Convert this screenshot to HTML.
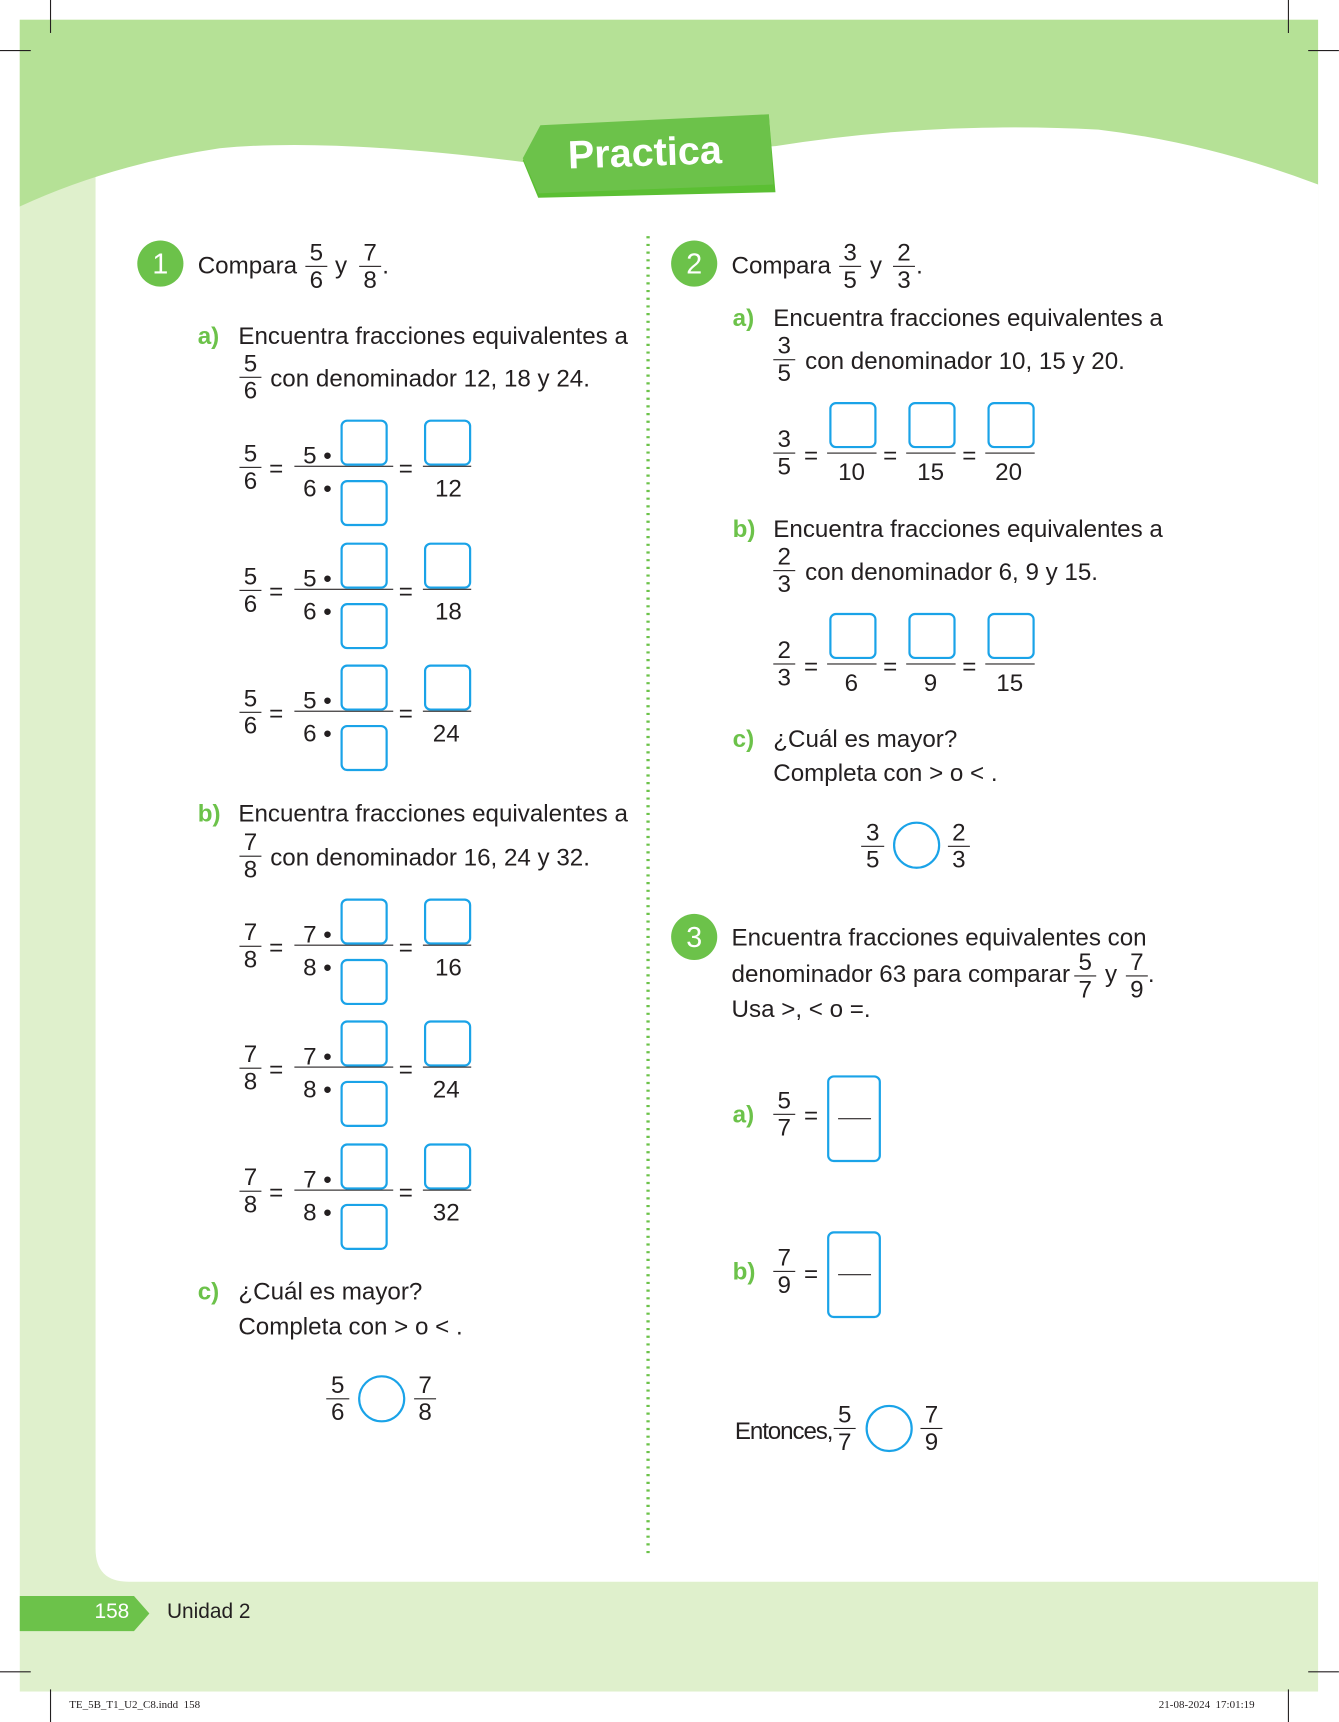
<!DOCTYPE html>
<html><head><meta charset="utf-8"><style>
html,body{margin:0;padding:0;background:#fff;width:1339px;height:1722px;overflow:hidden}
#w{position:absolute;left:0;top:0;width:1219px;height:1568px;transform:scale(1.0984);transform-origin:0 0;font-family:"Liberation Sans",sans-serif;color:#231f20}
.t{position:absolute;font-size:22px;white-space:nowrap;line-height:26px}
.g{color:#6cc24a;font-weight:bold}
.f{position:absolute;text-align:center;font-size:22px;line-height:24px;white-space:nowrap}
.f .b{border-top:1.5px solid #231f20}
.bx{position:absolute;border:2px solid #1aa3e8;border-radius:6px;box-sizing:border-box;background:#fff}
.c{position:absolute;border:2px solid #1aa3e8;border-radius:50%;box-sizing:border-box}
.n{position:absolute;width:42px;height:42px;border-radius:50%;background:#6cc24a;color:#fff;font-size:26px;line-height:42px;text-align:center}
.eq{position:absolute;font-size:22px;line-height:22px}
</style></head><body><div id="w">
<svg width="1219" height="1568" style="position:absolute;left:0;top:0">
<rect x="18" y="18" width="1182" height="1522" fill="#dff0cc"/>
<path d="M87 100 H1200 V1440 H117 Q87 1440 87 1410 Z" fill="#fff"/>
<path d="M18 18 H1200 V168 Q1100 130 1000 118 Q850 110 706 133 L480 148 Q300 125 200 135 Q100 150 18 188 Z" fill="#b5e196"/>
<polygon points="492,118 700,106 706,175 490,180 476,146" fill="#5bbf33"/>
<polygon points="492,114 700,104 704,168 490,176 476,144" fill="#6cc24a"/>
<line x1="590" y1="215" x2="590" y2="1418" stroke="#6cc24a" stroke-width="3" stroke-dasharray="2,5"/>
<polygon points="18,1453 122,1453 136,1469 122,1485 18,1485" fill="#6cc24a"/>
<g stroke="#231f20" stroke-width="1"><line x1="46" y1="0" x2="46" y2="30"/><line x1="0" y1="46" x2="28" y2="46"/><line x1="1173" y1="0" x2="1173" y2="30"/><line x1="1191" y1="46" x2="1219" y2="46"/><line x1="46" y1="1538" x2="46" y2="1568"/><line x1="0" y1="1522" x2="28" y2="1522"/><line x1="1173" y1="1538" x2="1173" y2="1568"/><line x1="1191" y1="1522" x2="1219" y2="1522"/></g>
</svg>
<div style="position:absolute;left:517px;top:118px;font-size:36px;font-weight:bold;color:#fff;transform:rotate(-2deg)">Practica</div>

<!-- Problem 1 -->
<div class="n" style="left:125px;top:219px">1</div>
<div class="t" style="left:180px;top:229px">Compara</div>
<div class="f" style="left:278px;top:218px;width:20px"><div>5</div><div class="b">6</div></div>
<div class="t" style="left:305px;top:229px">y</div>
<div class="f" style="left:327px;top:218px;width:20px"><div>7</div><div class="b">8</div></div>
<div class="t" style="left:348px;top:229px">.</div>
<div class="t g" style="left:180px;top:293px">a)</div>
<div class="t" style="left:217px;top:293px">Encuentra fracciones equivalentes a</div>
<div class="f" style="left:218px;top:319px;width:20px"><div>5</div><div class="b">6</div></div>
<div class="t" style="left:246px;top:332px">con denominador 12, 18 y 24.</div>

<!-- rows generator inline -->
<div id="rows"></div>

<div class="t g" style="left:180px;top:728px">b)</div>
<div class="t" style="left:217px;top:728px">Encuentra fracciones equivalentes a</div>
<div class="f" style="left:218px;top:755px;width:20px"><div>7</div><div class="b">8</div></div>
<div class="t" style="left:246px;top:768px">con denominador 16, 24 y 32.</div>

<div class="t g" style="left:180px;top:1163px">c)</div>
<div class="t" style="left:217px;top:1163px">¿Cuál es mayor?</div>
<div class="t" style="left:217px;top:1195px">Completa con &gt; o &lt; .</div>
<div class="f" style="left:297px;top:1249px;width:21px"><div>5</div><div class="b">6</div></div>
<div class="c" style="left:326px;top:1252px;width:43px;height:43px"></div>
<div class="f" style="left:377px;top:1249px;width:20px"><div>7</div><div class="b">8</div></div>

<!-- Problem 2 -->
<div class="n" style="left:611px;top:219px">2</div>
<div class="t" style="left:666px;top:229px">Compara</div>
<div class="f" style="left:764px;top:218px;width:20px"><div>3</div><div class="b">5</div></div>
<div class="t" style="left:792px;top:229px">y</div>
<div class="f" style="left:813px;top:218px;width:20px"><div>2</div><div class="b">3</div></div>
<div class="t" style="left:834px;top:229px">.</div>
<div class="t g" style="left:667px;top:277px">a)</div>
<div class="t" style="left:704px;top:277px">Encuentra fracciones equivalentes a</div>
<div class="f" style="left:704px;top:303px;width:20px"><div>3</div><div class="b">5</div></div>
<div class="t" style="left:733px;top:316px">con denominador 10, 15 y 20.</div>

<div class="t g" style="left:667px;top:469px">b)</div>
<div class="t" style="left:704px;top:469px">Encuentra fracciones equivalentes a</div>
<div class="f" style="left:704px;top:495px;width:20px"><div>2</div><div class="b">3</div></div>
<div class="t" style="left:733px;top:508px">con denominador 6, 9 y 15.</div>

<div class="t g" style="left:667px;top:660px">c)</div>
<div class="t" style="left:704px;top:660px">¿Cuál es mayor?</div>
<div class="t" style="left:704px;top:691px">Completa con &gt; o &lt; .</div>
<div class="f" style="left:784px;top:746px;width:21px"><div>3</div><div class="b">5</div></div>
<div class="c" style="left:813px;top:748px;width:43px;height:43px"></div>
<div class="f" style="left:863px;top:746px;width:20px"><div>2</div><div class="b">3</div></div>

<!-- Problem 3 -->
<div class="n" style="left:611px;top:832px">3</div>
<div class="t" style="left:666px;top:841px">Encuentra fracciones equivalentes con</div>
<div class="t" style="left:666px;top:874px">denominador 63 para comparar</div>
<div class="f" style="left:978px;top:864px;width:20px"><div>5</div><div class="b">7</div></div>
<div class="t" style="left:1006px;top:874px">y</div>
<div class="f" style="left:1025px;top:864px;width:20px"><div>7</div><div class="b">9</div></div>
<div class="t" style="left:1045px;top:874px">.</div>
<div class="t" style="left:666px;top:906px">Usa &gt;, &lt; o =.</div>

<div class="t g" style="left:667px;top:1002px">a)</div>
<div class="f" style="left:704px;top:990px;width:20px"><div>5</div><div class="b">7</div></div>
<div class="eq" style="left:732px;top:1005px">=</div>
<div class="bx" style="left:753px;top:979px;width:49px;height:79px"></div>
<div style="position:absolute;left:763px;top:1018px;width:30px;border-top:1.5px solid #231f20"></div>
<div class="t g" style="left:667px;top:1145px">b)</div>
<div class="f" style="left:704px;top:1133px;width:20px"><div>7</div><div class="b">9</div></div>
<div class="eq" style="left:732px;top:1149px">=</div>
<div class="bx" style="left:753px;top:1121px;width:49px;height:79px"></div>
<div style="position:absolute;left:763px;top:1160px;width:30px;border-top:1px solid #231f20"></div>

<div class="t" style="left:669px;top:1290px;letter-spacing:-1px">Entonces,</div>
<div class="f" style="left:759px;top:1276px;width:20px"><div>5</div><div class="b">7</div></div>
<div class="c" style="left:788px;top:1279px;width:43px;height:43px"></div>
<div class="f" style="left:838px;top:1276px;width:20px"><div>7</div><div class="b">9</div></div>

<div style="position:absolute;left:86px;top:1457px;font-size:19px;color:#fff">158</div>
<div style="position:absolute;left:152px;top:1457px;font-size:19px">Unidad 2</div>
<div style="position:absolute;left:63px;top:1547px;font-size:10px;font-family:'Liberation Serif',serif">TE_5B_T1_U2_C8.indd&nbsp;&nbsp;158</div>
<div style="position:absolute;left:1055px;top:1547px;font-size:10px;font-family:'Liberation Serif',serif">21-08-2024&nbsp;&nbsp;17:01:19</div>

<!-- Equation rows problem 1 -->
<div class="f" style="left:218px;top:401px;width:20px"><div>5</div><div class="b">6</div></div>
<div class="eq" style="left:245px;top:416px">=</div>
<div style="position:absolute;left:268px;top:424px;width:90px;border-top:1.5px solid #231f20"></div>
<div class="t" style="left:276px;top:402px">5 •</div><div class="bx" style="left:310px;top:382px;width:43px;height:42px"></div>
<div class="t" style="left:276px;top:432px">6 •</div><div class="bx" style="left:310px;top:437px;width:43px;height:42px"></div>
<div class="eq" style="left:363px;top:416px">=</div>
<div class="bx" style="left:386px;top:382px;width:43px;height:42px"></div>
<div style="position:absolute;left:385px;top:424px;width:44px;border-top:1.5px solid #231f20"></div>
<div class="t" style="left:396px;top:432px">12</div>

<div class="f" style="left:218px;top:513px;width:20px"><div>5</div><div class="b">6</div></div>
<div class="eq" style="left:245px;top:528px">=</div>
<div style="position:absolute;left:268px;top:536px;width:90px;border-top:1.5px solid #231f20"></div>
<div class="t" style="left:276px;top:514px">5 •</div><div class="bx" style="left:310px;top:494px;width:43px;height:42px"></div>
<div class="t" style="left:276px;top:544px">6 •</div><div class="bx" style="left:310px;top:549px;width:43px;height:42px"></div>
<div class="eq" style="left:363px;top:528px">=</div>
<div class="bx" style="left:386px;top:494px;width:43px;height:42px"></div>
<div style="position:absolute;left:385px;top:536px;width:44px;border-top:1.5px solid #231f20"></div>
<div class="t" style="left:396px;top:544px">18</div>

<div class="f" style="left:218px;top:624px;width:20px"><div>5</div><div class="b">6</div></div>
<div class="eq" style="left:245px;top:639px">=</div>
<div style="position:absolute;left:268px;top:647px;width:90px;border-top:1.5px solid #231f20"></div>
<div class="t" style="left:276px;top:625px">5 •</div><div class="bx" style="left:310px;top:605px;width:43px;height:42px"></div>
<div class="t" style="left:276px;top:655px">6 •</div><div class="bx" style="left:310px;top:660px;width:43px;height:42px"></div>
<div class="eq" style="left:363px;top:639px">=</div>
<div class="bx" style="left:386px;top:605px;width:43px;height:42px"></div>
<div style="position:absolute;left:385px;top:647px;width:44px;border-top:1.5px solid #231f20"></div>
<div class="t" style="left:394px;top:655px">24</div>

<div class="f" style="left:218px;top:837px;width:20px"><div>7</div><div class="b">8</div></div>
<div class="eq" style="left:245px;top:852px">=</div>
<div style="position:absolute;left:268px;top:860px;width:90px;border-top:1.5px solid #231f20"></div>
<div class="t" style="left:276px;top:838px">7 •</div><div class="bx" style="left:310px;top:818px;width:43px;height:42px"></div>
<div class="t" style="left:276px;top:868px">8 •</div><div class="bx" style="left:310px;top:873px;width:43px;height:42px"></div>
<div class="eq" style="left:363px;top:852px">=</div>
<div class="bx" style="left:386px;top:818px;width:43px;height:42px"></div>
<div style="position:absolute;left:385px;top:860px;width:44px;border-top:1.5px solid #231f20"></div>
<div class="t" style="left:396px;top:868px">16</div>

<div class="f" style="left:218px;top:948px;width:20px"><div>7</div><div class="b">8</div></div>
<div class="eq" style="left:245px;top:963px">=</div>
<div style="position:absolute;left:268px;top:971px;width:90px;border-top:1.5px solid #231f20"></div>
<div class="t" style="left:276px;top:949px">7 •</div><div class="bx" style="left:310px;top:929px;width:43px;height:42px"></div>
<div class="t" style="left:276px;top:979px">8 •</div><div class="bx" style="left:310px;top:984px;width:43px;height:42px"></div>
<div class="eq" style="left:363px;top:963px">=</div>
<div class="bx" style="left:386px;top:929px;width:43px;height:42px"></div>
<div style="position:absolute;left:385px;top:971px;width:44px;border-top:1.5px solid #231f20"></div>
<div class="t" style="left:394px;top:979px">24</div>

<div class="f" style="left:218px;top:1060px;width:20px"><div>7</div><div class="b">8</div></div>
<div class="eq" style="left:245px;top:1075px">=</div>
<div style="position:absolute;left:268px;top:1083px;width:90px;border-top:1.5px solid #231f20"></div>
<div class="t" style="left:276px;top:1061px">7 •</div><div class="bx" style="left:310px;top:1041px;width:43px;height:42px"></div>
<div class="t" style="left:276px;top:1091px">8 •</div><div class="bx" style="left:310px;top:1096px;width:43px;height:42px"></div>
<div class="eq" style="left:363px;top:1075px">=</div>
<div class="bx" style="left:386px;top:1041px;width:43px;height:42px"></div>
<div style="position:absolute;left:385px;top:1083px;width:44px;border-top:1.5px solid #231f20"></div>
<div class="t" style="left:394px;top:1091px">32</div>

<!-- Problem 2 equations -->
<div class="f" style="left:704px;top:388px;width:20px"><div>3</div><div class="b">5</div></div>
<div class="eq" style="left:732px;top:404px">=</div>
<div class="bx" style="left:755px;top:366px;width:43px;height:42px"></div><div style="position:absolute;left:753px;top:412px;width:45px;border-top:1.5px solid #231f20"></div><div class="t" style="left:763px;top:417px">10</div>
<div class="eq" style="left:804px;top:404px">=</div>
<div class="bx" style="left:827px;top:366px;width:43px;height:42px"></div><div style="position:absolute;left:825px;top:412px;width:45px;border-top:1.5px solid #231f20"></div><div class="t" style="left:835px;top:417px">15</div>
<div class="eq" style="left:876px;top:404px">=</div>
<div class="bx" style="left:899px;top:366px;width:43px;height:42px"></div><div style="position:absolute;left:897px;top:412px;width:45px;border-top:1.5px solid #231f20"></div><div class="t" style="left:906px;top:417px">20</div>

<div class="f" style="left:704px;top:580px;width:20px"><div>2</div><div class="b">3</div></div>
<div class="eq" style="left:732px;top:596px">=</div>
<div class="bx" style="left:755px;top:558px;width:43px;height:42px"></div><div style="position:absolute;left:753px;top:604px;width:45px;border-top:1.5px solid #231f20"></div><div class="t" style="left:769px;top:609px">6</div>
<div class="eq" style="left:804px;top:596px">=</div>
<div class="bx" style="left:827px;top:558px;width:43px;height:42px"></div><div style="position:absolute;left:825px;top:604px;width:45px;border-top:1.5px solid #231f20"></div><div class="t" style="left:841px;top:609px">9</div>
<div class="eq" style="left:876px;top:596px">=</div>
<div class="bx" style="left:899px;top:558px;width:43px;height:42px"></div><div style="position:absolute;left:897px;top:604px;width:45px;border-top:1.5px solid #231f20"></div><div class="t" style="left:907px;top:609px">15</div>
</div></body></html>
